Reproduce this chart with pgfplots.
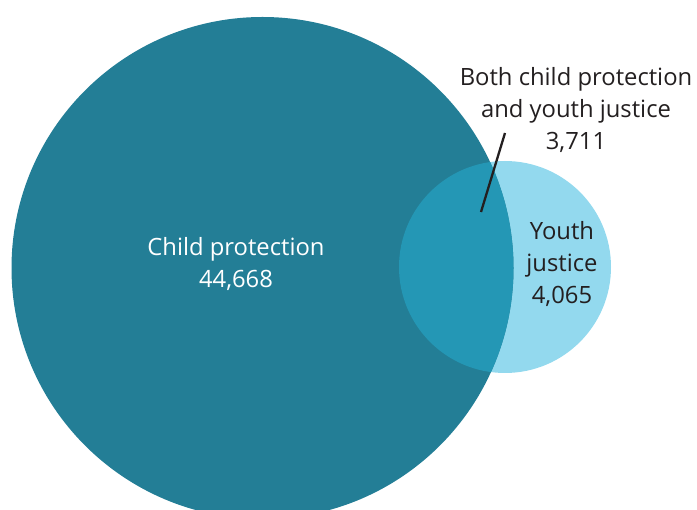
\documentclass[border=0pt]{standalone}
\usepackage{pgfplots}
\pgfplotsset{compat=1.18}
\usepackage{fontspec}
\setmainfont{Open Sans}
\definecolor{cpcol}{HTML}{237E96}
\definecolor{yjcol}{HTML}{93D9EE}
\definecolor{bothcol}{HTML}{2497B5}
\definecolor{txt}{HTML}{231F20}
\begin{document}
\begin{tikzpicture}
\begin{axis}[
  name=ax,
  width=697pt, height=510pt, scale only axis,
  xmin=0, xmax=697, ymin=0, ymax=510, y dir=reverse,
  hide axis, clip=true,
]
% circles: centre x, centre y, radius (pixels)
\fill[yjcol] (axis cs:505,267) circle[radius=106];
\fill[cpcol] (axis cs:262.5,268) circle[radius=251];
\begin{scope}
  \clip (axis cs:505,267) circle[radius=106];
  \fill[bothcol] (axis cs:262.5,268) circle[radius=251];
\end{scope}
\addplot[txt, line width=2.3pt] coordinates {(505,133) (481,212)};
\node[white, align=center, font=\fontsize{23.8}{32}\selectfont] at (axis cs:236,264) {Child protection\\44,668};
\node[txt, align=center, font=\fontsize{23.8}{32}\selectfont] at (axis cs:562,264) {Youth\\justice\\4,065};
\node[txt, align=center, font=\fontsize{23.8}{32}\selectfont] at (axis cs:576,110) {Both child protection\\and youth justice\\3,711};
\end{axis}
\pgfresetboundingbox
\path[use as bounding box] (ax.south west) rectangle (ax.north east);
\end{tikzpicture}
\end{document}
